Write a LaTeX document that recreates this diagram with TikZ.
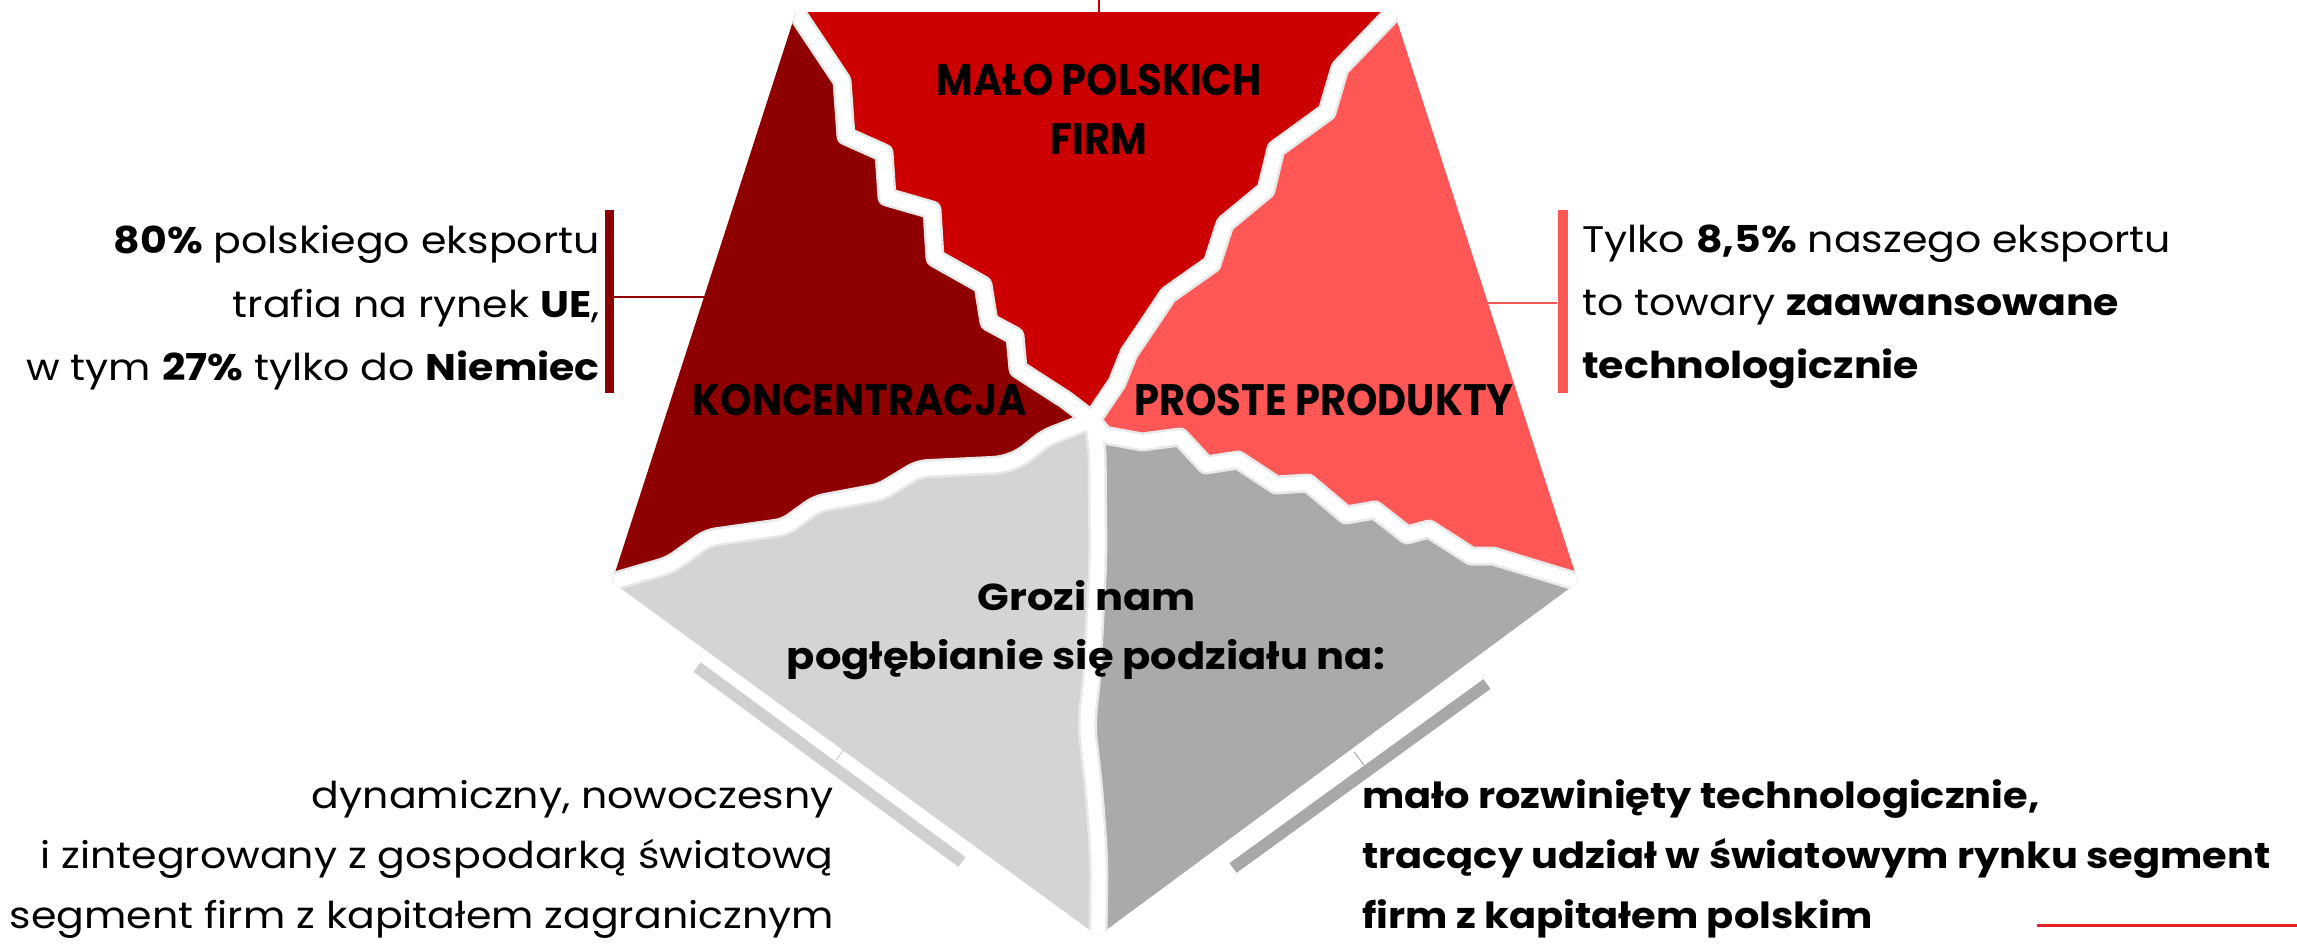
\documentclass[tikz,border=0pt]{standalone}
\usepackage{fontspec}
\setmainfont{Poppins}[FakeStretch=1.11]
\newfontfamily\condfont[FakeStretch=0.91]{Poppins}
\definecolor{cdred}{HTML}{8F0000}
\definecolor{cred}{HTML}{CC0000}
\definecolor{cpink}{HTML}{FF5656}
\definecolor{clgray}{HTML}{D4D4D4}
\definecolor{cdgray}{HTML}{AAAAAA}
\definecolor{cbarl}{HTML}{D0D0D0}
\definecolor{cbarr}{HTML}{A8A8A8}
\definecolor{cline}{HTML}{E8202A}
\tikzset{
  crackshade/.style={draw=black!9, line width=19pt, line join=round, line cap=round},
  crack/.style={draw=white, line width=14pt, line join=round, line cap=round},
  lbl/.style={font=\condfont\bfseries\fontsize{44}{44}\selectfont, inner sep=0pt},
  txt/.style={font=\fontsize{37}{37}\selectfont, inner sep=0pt},
  btxt/.style={font=\bfseries\fontsize{36}{36}\selectfont, inner sep=0pt},
  ctxt/.style={font=\bfseries\fontsize{37.5}{37.5}\selectfont, inner sep=0pt},
  bar/.style={line width=12pt},
}
\begin{document}
\begin{tikzpicture}[x=1pt,y=-1pt]
\useasboundingbox (0,0) rectangle (2297,943);
% pentagon vertices and centre
\coordinate (TL) at (796,12);
\coordinate (TR) at (1394,12);
\coordinate (L) at (612,582);
\coordinate (R) at (1578,582);
\coordinate (B) at (1098,936);
\coordinate (O) at (1092,420);
% crack 1 (TL to O)
\coordinate (a1) at (842,81);  \coordinate (a2) at (846,136);
\coordinate (a3) at (884,153); \coordinate (a4) at (887,197);
\coordinate (a5) at (932,210); \coordinate (a6) at (935,258);
\coordinate (a7) at (983,285); \coordinate (a8) at (989,322);
\coordinate (a9) at (1015,336); \coordinate (a10) at (1018,369);
\coordinate (a11) at (1066,400);
% crack 2 (TR to O)
\coordinate (b1) at (1340,68);  \coordinate (b2) at (1327,112);
\coordinate (b3) at (1276,149); \coordinate (b4) at (1266,190);
\coordinate (b5) at (1225,224); \coordinate (b6) at (1212,264);
\coordinate (b7) at (1168,295); \coordinate (b8) at (1148,325);
\coordinate (b9) at (1129,353); \coordinate (b10) at (1117,383);
% crack 3 (O to L)
\coordinate (c1) at (1046,438); \coordinate (c2) at (1021,458);
\coordinate (c3) at (1002,465); \coordinate (c4) at (919,469);
\coordinate (c5) at (881,492);  \coordinate (c6) at (817,504);
\coordinate (c7) at (785,527);  \coordinate (c8) at (708,538);
\coordinate (c9) at (670,565);
% crack 4 (O to R)
\coordinate (d1) at (1104,435);  \coordinate (d2) at (1142,442);
\coordinate (d3) at (1180,437);  \coordinate (d4) at (1206,465);
\coordinate (d5) at (1238,460);  \coordinate (d6) at (1276,485);
\coordinate (d7) at (1308,483);  \coordinate (d8) at (1346,515);
\coordinate (d9) at (1375,510);  \coordinate (d10) at (1407,535);
\coordinate (d11) at (1429,529); \coordinate (d12) at (1471,556);
\coordinate (d13) at (1493,556);
% crack 5 (O to B)
\coordinate (e1) at (1097,440); \coordinate (e2) at (1098,560);
\coordinate (e3) at (1091,690); \coordinate (e4) at (1086,720);
\coordinate (e5) at (1094,790); \coordinate (e6) at (1099,860);
% pieces
\fill[cred] (TL) -- (TR) -- (b1) -- (b2) -- (b3) -- (b4) -- (b5) -- (b6) -- (b7) -- (b8) -- (b9) -- (b10) -- (O)
  -- (a11) -- (a10) -- (a9) -- (a8) -- (a7) -- (a6) -- (a5) -- (a4) -- (a3) -- (a2) -- (a1) -- cycle;
\fill[cdred] (TL) -- (a1) -- (a2) -- (a3) -- (a4) -- (a5) -- (a6) -- (a7) -- (a8) -- (a9) -- (a10) -- (a11) -- (O)
  -- (c1) -- (c2) -- (c3) -- (c4) -- (c5) -- (c6) -- (c7) -- (c8) -- (c9) -- (L) -- cycle;
\fill[cpink] (TR) -- (R) -- (d13) -- (d12) -- (d11) -- (d10) -- (d9) -- (d8) -- (d7) -- (d6) -- (d5) -- (d4) -- (d3) -- (d2) -- (d1) -- (O)
  -- (b10) -- (b9) -- (b8) -- (b7) -- (b6) -- (b5) -- (b4) -- (b3) -- (b2) -- (b1) -- cycle;
\fill[clgray] (L) -- (c9) -- (c8) -- (c7) -- (c6) -- (c5) -- (c4) -- (c3) -- (c2) -- (c1) -- (O)
  -- (e1) -- (e2) -- (e3) -- (e4) -- (e5) -- (e6) -- (B) -- cycle;
\fill[cdgray] (R) -- (B) -- (e6) -- (e5) -- (e4) -- (e3) -- (e2) -- (e1) -- (O)
  -- (d1) -- (d2) -- (d3) -- (d4) -- (d5) -- (d6) -- (d7) -- (d8) -- (d9) -- (d10) -- (d11) -- (d12) -- (d13) -- cycle;
% cracks, clipped to the pentagon
\begin{scope}
\clip (TL) -- (TR) -- (R) -- (B) -- (L) -- cycle;
\foreach \s in {crackshade,crack}{
  \draw[\s] (TL) -- (a1) -- (a2) -- (a3) -- (a4) -- (a5) -- (a6) -- (a7) -- (a8) -- (a9) -- (a10) -- (a11) -- (O);
  \draw[\s] (TR) -- (b1) -- (b2) -- (b3) -- (b4) -- (b5) -- (b6) -- (b7) -- (b8) -- (b9) -- (b10) -- (O);
  \draw[\s, rounded corners=8pt] (O) -- (c1) -- (c2) -- (c3) -- (c4) -- (c5) -- (c6) -- (c7) -- (c8) -- (c9) -- (L);
  \draw[\s] (O) -- (d1) -- (d2) -- (d3) -- (d4) -- (d5) -- (d6) -- (d7) -- (d8) -- (d9) -- (d10) -- (d11) -- (d12) -- (d13) -- (R);
  \draw[\s, rounded corners=20pt] (O) -- (e1) -- (e2) -- (e3) -- (e4) -- (e5) -- (e6) -- (B);
}
\end{scope}
% pentagon labels
\node[lbl, anchor=base] (mp) at (1099,95) {MAŁO POLSKICH};
\node[lbl, anchor=base] (fi) at (1099,154) {FIRM};
\node[lbl, anchor=base] (ko) at (860,415) {KONCENTRACJA};
\node[lbl, anchor=base] (pp) at (1324,415) {PROSTE PRODUKTY};
\node[ctxt, anchor=base] (g1) at (1087,610) {Grozi nam};
\node[ctxt, anchor=base] (g2) at (1086,669) {pogłębianie się podziału na:};
% left block
\node[fill=cdred, minimum width=9pt, minimum height=183pt, inner sep=0pt] (lbar) at (609.5,301.5) {};
\coordinate (lhit) at (704,297);
\draw[cdred, line width=1.5pt] (lbar.east |- lhit) -- (lhit);
\node[txt, anchor=base east] (l1) at (600,253) {\textbf{80\%} polskiego eksportu};
\node[txt, anchor=base east] (l2) at (600,317) {trafia na rynek \textbf{UE},};
\node[txt, anchor=base east] (l3) at (600,380) {w tym \textbf{27\%} tylko do \textbf{Niemiec}};
% right block
\node[fill=cpink, minimum width=10pt, minimum height=183pt, inner sep=0pt] (rbar) at (1562.5,301.5) {};
\coordinate (rhit) at (1488,303);
\draw[cpink, line width=1.5pt] (rhit) -- (rbar.west |- rhit);
\node[txt, anchor=base west] (r1) at (1582,252) {Tylko \textbf{8,5\%} naszego eksportu};
\node[txt, anchor=base west] (r2) at (1582,315) {to towary \textbf{zaawansowane}};
\node[txt, anchor=base west] (r3) at (1582,378) {\textbf{technologicznie}};
% top connector
\coordinate (ttop) at (1099,0);
\coordinate (tbot) at (1099,13);
\draw[cred, line width=1.5pt] (ttop) -- (tbot);
% bottom bars
\coordinate (lb1) at (697,667); \coordinate (lb2) at (962,862);
\draw[cbarl, bar] (lb1) -- (lb2);
\coordinate (lt1) at (848,744); \coordinate (lt2) at (836,760);
\draw[cbarl, line width=1pt] (lt1) -- (lt2);
\coordinate (rb1) at (1487,684); \coordinate (rb2) at (1233,868);
\draw[cbarr, bar] (rb1) -- (rb2);
\coordinate (rt1) at (1354,752); \coordinate (rt2) at (1364,765);
\draw[cbarr, line width=1pt] (rt1) -- (rt2);
% bottom texts
\node[txt, anchor=base east] (bl1) at (834,808) {dynamiczny, nowoczesny};
\node[txt, anchor=base east] (bl2) at (834,868) {i zintegrowany z gospodarką światową};
\node[txt, anchor=base east] (bl3) at (834,928) {segment firm z kapitałem zagranicznym};
\node[btxt, anchor=base west] (br1) at (1362,808) {mało rozwinięty technologicznie,};
\node[btxt, anchor=base west] (br2) at (1362,868) {tracący udział w światowym rynku segment};
\node[btxt, anchor=base west] (br3) at (1362,928) {firm z kapitałem polskim};
% bottom right line
\coordinate (bl) at (2037,925); \coordinate (br) at (2297,925);
\draw[cline, line width=3pt] (bl) -- (br);
\end{tikzpicture}
\end{document}
